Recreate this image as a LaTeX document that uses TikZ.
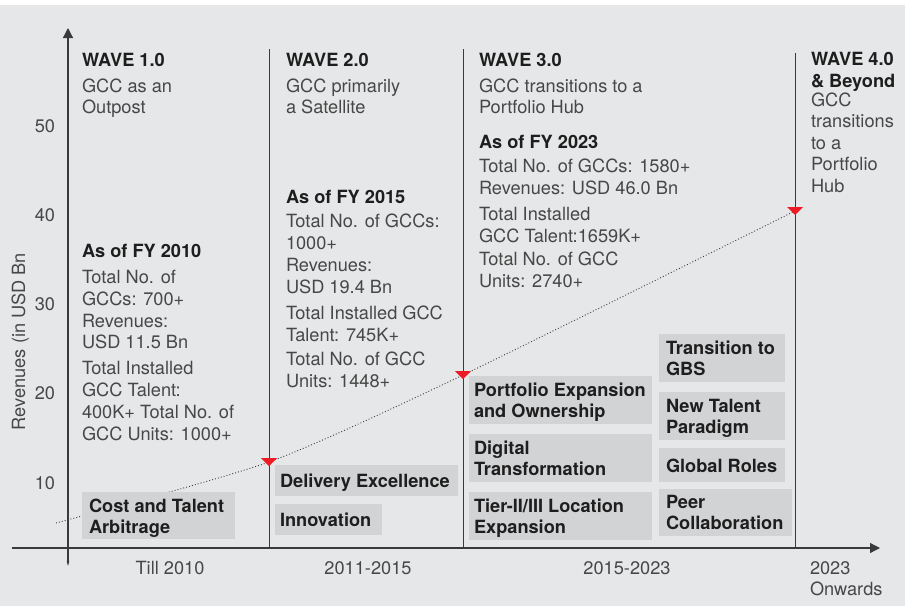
\documentclass[tikz,border=0pt]{standalone}
\usepackage{fontspec}
\setmainfont{TeX Gyre Heros}
\usetikzlibrary{arrows.meta}
\definecolor{bg}{HTML}{E6E7E8}
\definecolor{boxc}{HTML}{D2D3D5}
\definecolor{bodyc}{HTML}{474747}
\definecolor{headc}{HTML}{1E1E1E}
\definecolor{linec}{HTML}{3A3A3A}
\definecolor{redc}{HTML}{ED1C24}
\begin{document}
\begin{tikzpicture}[x=1pt,y=-1pt,
 every node/.style={inner sep=0pt, outer sep=0pt},
 body/.style={anchor=base west, text=bodyc, font=\fontsize{18.2}{21}\selectfont},
 head/.style={anchor=base west, text=headc, font=\fontsize{18.2}{21}\selectfont\bfseries},
 tagtext/.style={anchor=base west, text=headc, font=\fontsize{18.2}{21}\selectfont\bfseries},
 tagbox/.style={fill=boxc, draw=none, anchor=north west},
 axisline/.style={draw=linec, line width=1.2pt},
 divider/.style={draw=linec, line width=1pt},
 trend/.style={draw=linec, line width=0.9pt, dash pattern=on 0.9pt off 2.1pt},
 marker/.style={fill=redc, draw=none}]
\useasboundingbox (0,0) rectangle (905,606);
\fill[white] (0,0) rectangle (905,606);
\fill[bg] (0,5) rectangle (905,606);

% trend curve
\coordinate (t0) at (56,523);
\coordinate (t1) at (269,462);
\coordinate (t2) at (463,375);
\coordinate (t3) at (795,211);
\draw[trend] plot[smooth, tension=0.4] coordinates {(t0) (t1) (t2) (t3)};

% tag boxes
\node[tagbox, minimum width=153pt, minimum height=47pt] (b1) at (82,492) {};
\node[tagbox, minimum width=183pt, minimum height=31pt] (b2) at (275,465) {};
\node[tagbox, minimum width=107pt, minimum height=31pt] (b3) at (275,504) {};
\node[tagbox, minimum width=183pt, minimum height=48pt] (b4) at (469,376) {};
\node[tagbox, minimum width=183pt, minimum height=48pt] (b5) at (469,434) {};
\node[tagbox, minimum width=183pt, minimum height=48pt] (b6) at (469,492) {};
\node[tagbox, minimum width=126pt, minimum height=48pt] (b7) at (659,334) {};
\node[tagbox, minimum width=126pt, minimum height=48pt] (b8) at (659,392) {};
\node[tagbox, minimum width=126pt, minimum height=34pt] (b9) at (659,448) {};
\node[tagbox, minimum width=133pt, minimum height=47pt] (b10) at (659,489) {};

% axes
\coordinate (yb) at (68,566);
\coordinate (yt) at (68,28);
\coordinate (xl) at (12,548);
\coordinate (xr) at (880,548);
\draw[axisline, {Stealth[length=5pt,width=2.5pt]}-{Triangle[length=10pt,width=10pt]}] (yb) -- (yt);
\draw[axisline, -{Triangle[length=10pt,width=10pt]}] (xl) -- (xr);

% dividers
\coordinate (d1t) at (269,49);  \coordinate (d1b) at (269,548);
\coordinate (d2t) at (463,49);  \coordinate (d2b) at (463,548);
\coordinate (d3t) at (795,53);  \coordinate (d3b) at (795,548);
\draw[divider] (d1t) -- (d1b);
\draw[divider] (d2t) -- (d2b);
\draw[divider] (d3t) -- (d3b);

% markers
\fill[marker] (261,458) -- (277,458) -- (269,466) -- cycle;
\fill[marker] (455,371) -- (471,371) -- (463,379) -- cycle;
\fill[marker] (787,207) -- (803,207) -- (795,215) -- cycle;

% y ticks
\node[body, anchor=base east] (y50) at (55,132) {50};
\node[body, anchor=base east] (y40) at (55,221) {40};
\node[body, anchor=base east] (y30) at (55,310) {30};
\node[body, anchor=base east] (y20) at (55,399) {20};
\node[body, anchor=base east] (y10) at (55,489) {10};
\node[body, anchor=base, rotate=90] (ytitle) at (25,341.5) {Revenues (in USD Bn};

% x labels
\node[body, anchor=base] (x1) at (170,574) {Till 2010};
\node[body, anchor=base] (x2) at (368,574) {2011-2015};
\node[body, anchor=base] (x3) at (627,574) {2015-2023};
\node[body] (x4a) at (810,574) {2023};
\node[body] (x4b) at (810,595) {Onwards};

% wave 1
\node[head] (w1h) at (82,66) {WAVE 1.0};
\node[body] (w1s1) at (82,92) {GCC as an};
\node[body] (w1s2) at (82,113.5) {Outpost};
\node[head] (w1f) at (82,257) {As of FY 2010};
\node[body] (w1l1) at (82,283) {Total No. of};
\node[body] (w1l2) at (82,305) {GCCs: 700+};
\node[body] (w1l3) at (82,327) {Revenues:};
\node[body] (w1l4) at (82,348) {USD 11.5 Bn};
\node[body] (w1l5) at (82,374) {Total Installed};
\node[body] (w1l6) at (82,396) {GCC Talent:};
\node[body] (w1l7) at (82,418) {400K+ Total No. of};
\node[body] (w1l8) at (82,440) {GCC Units: 1000+};

% wave 2
\node[head] (w2h) at (286,66) {WAVE 2.0};
\node[body] (w2s1) at (286,92) {GCC primarily};
\node[body] (w2s2) at (286,113.5) {a Satellite};
\node[head] (w2f) at (286,203) {As of FY 2015};
\node[body] (w2l1) at (286,227) {Total No. of GCCs:};
\node[body] (w2l2) at (286,249) {1000+};
\node[body] (w2l3) at (286,271) {Revenues:};
\node[body] (w2l4) at (286,293) {USD 19.4 Bn};
\node[body] (w2l5) at (286,319) {Total Installed GCC};
\node[body] (w2l6) at (286,341) {Talent: 745K+};
\node[body] (w2l7) at (286,365) {Total No. of GCC};
\node[body] (w2l8) at (286,387) {Units: 1448+};

% wave 3
\node[head] (w3h) at (479,66) {WAVE 3.0};
\node[body] (w3s1) at (479,92) {GCC transitions to a};
\node[body] (w3s2) at (479,113.5) {Portfolio Hub};
\node[head] (w3f) at (479,148) {As of FY 2023};
\node[body] (w3l1) at (479,172) {Total No. of GCCs: 1580+};
\node[body] (w3l2) at (479,194) {Revenues: USD 46.0 Bn};
\node[body] (w3l3) at (479,220) {Total Installed};
\node[body] (w3l4) at (479,242) {GCC Talent:1659K+};
\node[body] (w3l5) at (479,265) {Total No. of GCC};
\node[body] (w3l6) at (479,287) {Units: 2740+};

% wave 4
\node[head] (w4h1) at (811,65) {WAVE 4.0};
\node[head] (w4h2) at (811,87) {\& Beyond};
\node[body] (w4s1) at (811,106) {GCC};
\node[body] (w4s2) at (811,127.5) {transitions};
\node[body] (w4s3) at (811,149) {to a};
\node[body] (w4s4) at (811,170.5) {Portfolio};
\node[body] (w4s5) at (811,192) {Hub};

% tag texts
\node[tagtext] (b1a) at (89,512) {Cost and Talent};
\node[tagtext] (b1b) at (89,533) {Arbitrage};
\node[tagtext] (b2a) at (280,487) {Delivery Excellence};
\node[tagtext] (b3a) at (280,526) {Innovation};
\node[tagtext] (b4a) at (474,396) {Portfolio Expansion};
\node[tagtext] (b4b) at (474,417) {and Ownership};
\node[tagtext] (b5a) at (474,454) {Digital};
\node[tagtext] (b5b) at (474,475) {Transformation};
\node[tagtext] (b6a) at (474,512) {Tier-II/III Location};
\node[tagtext] (b6b) at (474,533) {Expansion};
\node[tagtext] (b7a) at (666,354) {Transition to};
\node[tagtext] (b7b) at (666,375) {GBS};
\node[tagtext] (b8a) at (666,412) {New Talent};
\node[tagtext] (b8b) at (666,433) {Paradigm};
\node[tagtext] (b9a) at (666,472) {Global Roles};
\node[tagtext] (b10a) at (666,508) {Peer};
\node[tagtext] (b10b) at (666,529) {Collaboration};
\end{tikzpicture}
\end{document}
